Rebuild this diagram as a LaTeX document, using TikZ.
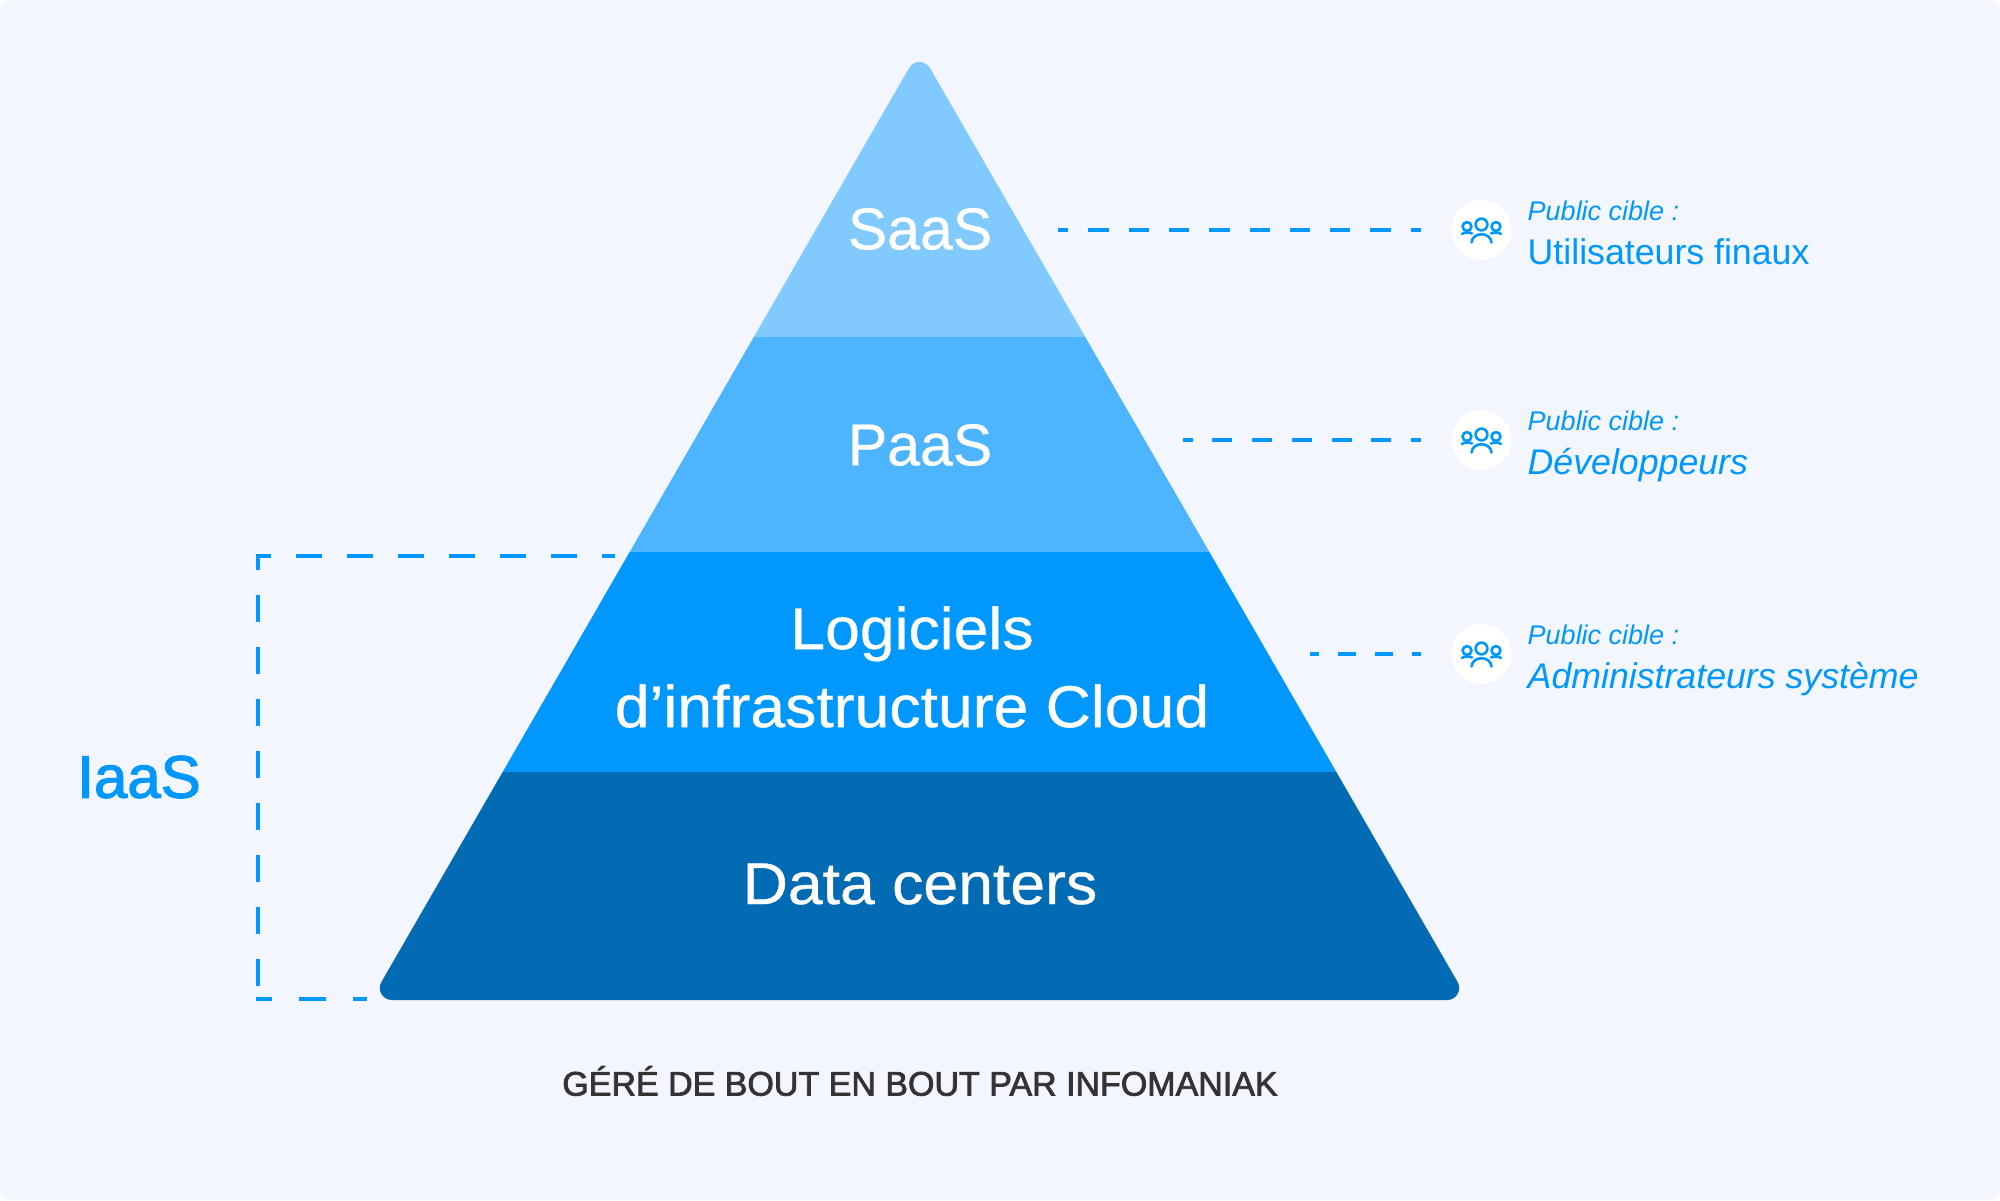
\documentclass[tikz,border=0pt]{standalone}
\usepackage{fontspec}
\setmainfont{Liberation Sans}
\newfontfamily\bandface[FakeBold=0.6]{Liberation Sans}
\newfontfamily\bandwide[FakeBold=0.6,FakeStretch=1.06]{Liberation Sans}
\newfontfamily\strongface[FakeBold=2]{Liberation Sans}
\newfontfamily\footface[FakeBold=2.2]{Liberation Sans}
\definecolor{pagebg}{HTML}{F3F6FE}
\definecolor{saasblue}{HTML}{80CAFF}
\definecolor{paasblue}{HTML}{4DB4FF}
\definecolor{softblue}{HTML}{0098FF}
\definecolor{datablue}{HTML}{036BB4}
\definecolor{footgray}{HTML}{333333}

\newcommand{\audienceicon}[1]{
  \begin{scope}[shift={(#1.center)},draw=softblue,line width=2.6pt,line cap=round]
    \draw (0,-5.5) circle (5.9);
    \draw (-14.5,-3.5) circle (4.4);
    \draw (14.5,-3.5) circle (4.4);
    \draw (-10,12.5) .. controls (-9,1.5) and (9,1.5) .. (10,12.5);
    \draw (-19.5,4) .. controls (-17,2) and (-12,2) .. (-9.5,3.5);
    \draw (19.5,4) .. controls (17,2) and (12,2) .. (9.5,3.5);
  \end{scope}
}

\begin{document}
\begin{tikzpicture}[x=1pt,y=-1pt,node distance=46pt]
  \tikzstyle{BandLabel}=[text=white,inner sep=0pt,align=center]
  \tikzstyle{AudienceDisc}=[shape=circle,fill=white,draw=none,inner sep=0pt,minimum size=60pt]
  \tikzstyle{AudienceTop}=[inner sep=0pt,text=softblue,font=\fontsize{27}{32}\selectfont\itshape]
  \tikzstyle{AudienceName}=[inner sep=0pt,text=softblue,font=\fontsize{35.7}{42}\selectfont]
  \tikzstyle{AudienceDash}=[softblue,line width=4pt,shorten >=30.5pt]
  \tikzstyle{BracketDash}=[softblue,line width=4pt]

  \useasboundingbox (0,0) rectangle (2000,1200);
  \fill[white] (0,0) rectangle (2000,1200);
  \fill[pagebg,rounded corners=10pt] (0,0) rectangle (2000,1200);

  % pyramid
  \begin{scope}
    \clip (909.1,68) .. controls (913.72,60) and (925.28,60) .. (929.9,68)
      -- (1457.6,982) .. controls (1462.2,990) and (1456.44,1000) .. (1447.2,1000)
      -- (391.8,1000) .. controls (382.56,1000) and (376.8,990) .. (381.4,982)
      -- cycle;
    \fill[saasblue] (300,40) rectangle (1540,337);
    \fill[paasblue] (300,337) rectangle (1540,552);
    \fill[softblue] (300,552) rectangle (1540,771.5);
    \fill[datablue] (300,771.5) rectangle (1540,1010);
  \end{scope}

  \node[BandLabel,font=\fontsize{59}{78}\bandface\selectfont] (saas) at (920,229) {SaaS};
  \node[BandLabel,font=\fontsize{59}{78}\bandface\selectfont] (paas) at (920,445) {PaaS};
  \node[BandLabel,font=\fontsize{59}{78}\bandwide\selectfont] (logiciels) at (912,667) {Logiciels\\d’infrastructure Cloud};
  \node[BandLabel,font=\fontsize{59}{78}\bandwide\selectfont] (data) at (920,884) {Data centers};

  % audiences
  \node[AudienceDisc] (disc1) at (1481.5,230) {};
  \node[AudienceTop, right of=disc1, anchor=base west, yshift=10pt] (top1) {Public cible :};
  \node[AudienceName, right of=disc1, anchor=base west, yshift=-34pt] (name1) {Utilisateurs finaux};

  \node[AudienceDisc] (disc2) at (1481.5,440) {};
  \node[AudienceTop, right of=disc2, anchor=base west, yshift=10pt] (top2) {Public cible :};
  \node[AudienceName, right of=disc2, anchor=base west, yshift=-34pt] (name2) {\itshape Développeurs};

  \node[AudienceDisc] (disc3) at (1481.5,654) {};
  \node[AudienceTop, right of=disc3, anchor=base west, yshift=10pt] (top3) {Public cible :};
  \node[AudienceName, right of=disc3, anchor=base west, yshift=-34pt] (name3) {\itshape Administrateurs système};

  \audienceicon{disc1}
  \audienceicon{disc2}
  \audienceicon{disc3}

  % dashed leads
  \coordinate (lead1) at (1058,230);
  \coordinate (lead2) at (1182.7,440);
  \coordinate (lead3) at (1310,654);
  \draw[AudienceDash,dash pattern=on 20.3pt off 20pt,dash phase=10pt] (lead1) -- (disc1);
  \draw[AudienceDash,dash pattern=on 20pt off 19.7pt,dash phase=10pt] (lead2) -- (disc2);
  \draw[AudienceDash,dash pattern=on 18.7pt off 18.3pt,dash phase=9.3pt] (lead3) -- (disc3);

  % IaaS bracket
  \coordinate (iaasTop) at (615,556);
  \coordinate (iaasCornerTop) at (258,556);
  \coordinate (iaasCornerBottom) at (258,999);
  \coordinate (iaasBottom) at (367,999);
  \node[text=softblue,inner sep=0pt,font=\fontsize{60}{70}\strongface\selectfont] (iaas) at (139,777) {IaaS};
  \draw[BracketDash,shorten >=-2pt,dash pattern=on 26pt off 25pt,dash phase=13pt] (iaasTop) -- (iaasCornerTop);
  \draw[BracketDash,shorten <=-2pt,shorten >=-2pt,dash pattern=on 27pt off 25pt,dash phase=11pt] (iaasCornerTop) -- (iaasCornerBottom);
  \draw[BracketDash,shorten <=-2pt,dash pattern=on 27pt off 27pt,dash phase=11pt] (iaasCornerBottom) -- (iaasBottom);

  \node[text=footgray,inner sep=0pt,font=\fontsize{34}{40}\footface\selectfont] (footer) at (920,1081) {GÉRÉ DE BOUT EN BOUT PAR INFOMANIAK};
\end{tikzpicture}
\end{document}
